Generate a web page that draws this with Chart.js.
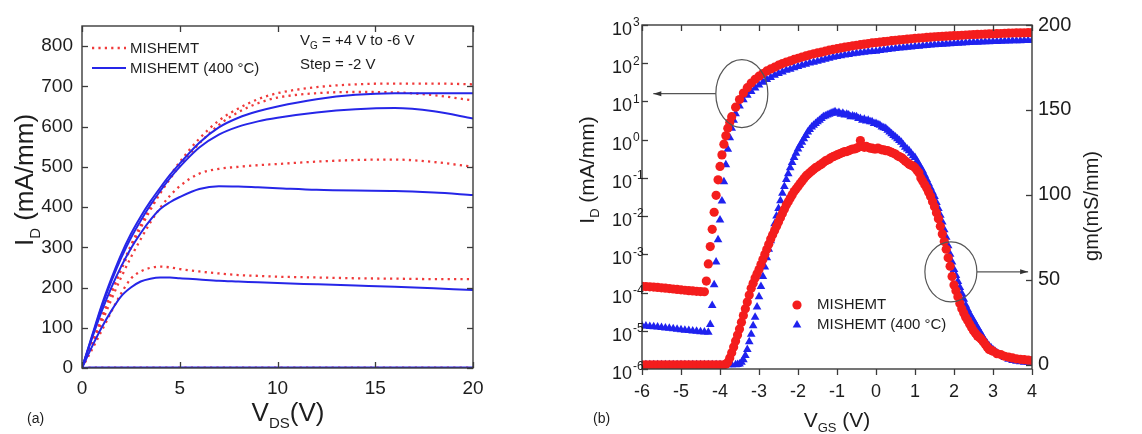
<!DOCTYPE html>
<html><head><meta charset="utf-8">
<script src="https://cdn.jsdelivr.net/npm/chart.js@4.4.0/dist/chart.umd.min.js"></script>
<style>
html,body{margin:0;padding:0;background:#fff;width:1142px;height:434px;overflow:hidden}
canvas{position:absolute;top:0}
#ca{left:0}
#cb{left:575px}
</style></head><body>
<canvas id="ca" width="575" height="434" style="width:575px;height:434px"></canvas>
<canvas id="cb" width="567" height="434" style="width:567px;height:434px"></canvas>
<script>
// ---------- Panel (a) data : output characteristics ----------
const vds = [0,0.5,1,1.5,2,2.5,3,3.5,4,4.5,5,6,7,8,9,10,12,14,16,18,20];
const redP4  = [0,60,125,190,250,305,355,400,440,478,512,570,615,645,668,683,698,705,707,707,705];
const redP2  = [0,58,120,183,243,298,348,393,434,470,502,558,604,636,658,672,683,686,685,678,665];
const red0   = [0,55,112,170,225,275,320,362,398,428,452,483,495,500,504,507,513,517,518,512,500];
const redM2  = [0,45,92,140,185,222,240,249,252,250,246,240,235,231,229,227,225,223,222,221,221];
const redM4  = [0,0,0,0,0,0,0,0,0,0,0,0,0,0,0,0,0,0,0,0,0];
const redM6  = [0,0,0,0,0,0,0,0,0,0,0,0,0,0,0,0,0,0,0,0,0];
const blueP4 = [0,78,155,222,282,333,376,414,448,480,508,560,598,622,638,650,668,679,683,683,683];
const blueP2 = [0,75,150,215,273,323,366,405,440,472,500,548,580,600,613,622,635,643,646,638,620];
const blue0  = [0,72,140,200,252,297,335,368,395,412,425,445,452,451,449,447,443,441,440,436,430];
const blueM2 = [0,52,100,142,178,200,215,222,225,225,223,220,217,215,213,211,208,205,202,198,194];
const blueM4 = [0,1,1,1,1,1,1,1,1,1,1,1,1,1,1,1,1,1,1,1,1];
const blueM6 = [0,0,0,0,0,0,0,0,0,0,0,0,0,0,0,0,0,0,0,0,0];
const xTicksA = [0,5,10,15,20];
const yTicksA = [0,100,200,300,400,500,600,700,800];

// ---------- Panel (b) data : transfer characteristics ----------
// transconductance gm (mS/mm) : [VGS, gm]
const gmMis = [[-6,0],[-5.9,0],[-5.8,0],[-5.7,0],[-5.6,0],[-5.5,0],[-5.4,0],[-5.3,0],[-5.2,0],[-5.1,0],[-5,0],
 [-4.9,0],[-4.8,0],[-4.7,0],[-4.6,0],[-4.5,0],[-4.4,0],[-4.3,0],[-4.2,0],[-4.1,0],[-4,0],[-3.9,0],[-3.85,0.3],
 [-3.8,1.5],[-3.75,4],[-3.7,7],[-3.65,10.5],[-3.6,14],[-3.55,17.5],[-3.5,21],[-3.45,25],[-3.4,29],[-3.35,33],
 [-3.3,37],[-3.25,41],[-3.2,45],[-3.15,48],[-3.1,51],[-3.05,53.5],[-3,56],[-2.95,59],[-2.9,62],[-2.85,65],[-2.8,68],
 [-2.75,71],[-2.7,74],[-2.65,76.5],[-2.6,79],[-2.55,81.5],[-2.5,84],[-2.45,86.5],[-2.4,89],[-2.35,91.5],[-2.3,94],
 [-2.25,96],[-2.2,98],[-2.15,100],[-2.1,102],[-2.05,103.5],[-2,105],[-1.95,106.5],[-1.9,108],[-1.85,109.5],[-1.8,111],
 [-1.75,112],[-1.7,113],[-1.65,114],[-1.6,115],[-1.55,116],[-1.5,116.5],[-1.45,117.5],[-1.4,118],[-1.35,119],[-1.3,120],
 [-1.25,120.5],[-1.2,121],[-1.15,122],[-1.1,122.5],[-1.05,123],[-1,123.5],[-0.95,124],[-0.9,124.5],[-0.85,125],
 [-0.8,125.5],[-0.75,125.5],[-0.7,126],[-0.65,126.5],[-0.6,127],[-0.55,127],[-0.5,127.5],[-0.45,128],[-0.4,132],
 [-0.35,128.5],[-0.3,128],[-0.25,128.5],[-0.2,128],[-0.15,127.5],[-0.1,127.5],[-0.05,127],[0,127],[0.05,127.5],[0.1,127],
 [0.15,126.5],[0.2,126.5],[0.25,126],[0.3,126],[0.35,125.5],[0.4,125],[0.45,124.5],[0.5,124],[0.55,123],[0.6,122.5],
 [0.65,122],[0.7,121],[0.75,120],[0.8,119],[0.85,118],[0.9,117.5],[0.95,117],[1,116],[1.05,114.5],[1.1,113],[1.15,110],
 [1.2,108],[1.25,106],[1.3,104],[1.35,101.5],[1.4,99],[1.45,96],[1.5,93],[1.55,89.5],[1.6,86],[1.65,81.5],[1.7,77],
 [1.75,72.5],[1.8,68],[1.85,63],[1.9,58],[1.95,52],[2,47],[2.05,43.5],[2.1,40],[2.15,36],[2.2,33],[2.25,30.5],[2.3,28],
 [2.35,26],[2.4,24],[2.45,22],[2.5,20],[2.55,18.5],[2.6,17],[2.65,16],[2.7,15],[2.75,13.5],[2.8,12],[2.85,10.5],[2.9,9],
 [2.95,8.5],[3,8],[3.1,6.5],[3.2,6],[3.3,5],[3.4,4.5],[3.5,4],[3.6,3.5],[3.7,3.2],[3.8,3],[3.9,2.7],[4,2.5]];
const gmMis400 = [[-6,0],[-5.9,0],[-5.8,0],[-5.7,0],[-5.6,0],[-5.5,0],[-5.4,0],[-5.3,0],[-5.2,0],[-5.1,0],[-5,0],
 [-4.9,0],[-4.8,0],[-4.7,0],[-4.6,0],[-4.5,0],[-4.4,0],[-4.3,0],[-4.2,0],[-4.1,0],[-4,0],[-3.9,0],[-3.8,0],[-3.7,0],
 [-3.6,0],[-3.55,0.2],[-3.5,0.5],[-3.45,1.5],[-3.4,3],[-3.35,5.5],[-3.3,9],[-3.25,13.5],[-3.2,18],[-3.15,23],[-3.1,28],
 [-3.05,34],[-3,40],[-2.95,46],[-2.9,52],[-2.85,57.5],[-2.8,63],[-2.75,68],[-2.7,73],[-2.65,78],[-2.6,83],[-2.55,87.5],
 [-2.5,92],[-2.45,96.5],[-2.4,101],[-2.35,105],[-2.3,109],[-2.25,112.5],[-2.2,116],[-2.15,119],[-2.1,122],[-2.05,124.5],
 [-2,127],[-1.95,129],[-1.9,131],[-1.85,133],[-1.8,135],[-1.75,137],[-1.7,138.5],[-1.65,140],[-1.6,141],[-1.55,142],
 [-1.5,143],[-1.45,144],[-1.4,145],[-1.35,146],[-1.3,146.5],[-1.25,147],[-1.2,147.5],[-1.15,148],[-1.1,148.5],[-1.05,149],
 [-1,148],[-0.95,148.5],[-0.9,147.5],[-0.85,148],[-0.8,147],[-0.75,147.5],[-0.7,147],[-0.65,146],[-0.6,146.5],[-0.55,146],
 [-0.5,146],[-0.45,145],[-0.4,145],[-0.35,144],[-0.3,144.5],[-0.25,143.5],[-0.2,144],[-0.15,143],[-0.1,143],[-0.05,142],
 [0,142],[0.05,141.5],[0.1,141],[0.15,140],[0.2,139.5],[0.25,139],[0.3,138],[0.35,137],[0.4,136],[0.45,135],[0.5,134],
 [0.55,133],[0.6,132],[0.65,131],[0.7,129.5],[0.75,128],[0.8,127],[0.85,126],[0.9,124.5],[0.95,123],[1,122],[1.05,120],
 [1.1,118],[1.15,116],[1.2,114],[1.25,111.5],[1.3,109],[1.35,106.5],[1.4,104],[1.45,101.5],[1.5,99],[1.55,95.5],[1.6,92],
 [1.65,88],[1.7,84],[1.75,79.5],[1.8,75],[1.85,70],[1.9,65],[1.95,60.5],[2,56],[2.05,52.5],[2.1,49],[2.15,45.5],[2.2,42],
 [2.25,38.5],[2.3,35],[2.35,32.5],[2.4,30],[2.45,28],[2.5,26],[2.55,24],[2.6,22],[2.65,20],[2.7,18],[2.75,16],[2.8,14],
 [2.85,12.5],[2.9,11],[2.95,10],[3,8.8],[3.05,8],[3.1,7],[3.15,6.2],[3.2,5.5],[3.3,4.3],[3.4,3.3],[3.5,2.5],[3.6,2],
 [3.7,1.7],[3.8,1.5],[3.9,1.5],[4,1.5]];
// drain current ID (mA/mm) : [VGS, ID]
const idMis = [[-6,1.45e-4],[-5.9,1.43e-4],[-5.8,1.41e-4],[-5.7,1.39e-4],[-5.6,1.36e-4],[-5.5,1.33e-4],[-5.4,1.30e-4],
 [-5.3,1.27e-4],[-5.2,1.24e-4],[-5.1,1.21e-4],[-5,1.18e-4],[-4.9,1.15e-4],[-4.8,1.12e-4],[-4.7,1.10e-4],[-4.6,1.08e-4],
 [-4.5,1.06e-4],[-4.4,1.05e-4],[-4.35,2.0e-4],[-4.3,5.6e-4],[-4.25,1.6e-3],[-4.2,4.5e-3],[-4.15,1.26e-2],[-4.1,3.5e-2],
 [-4.05,8.9e-2],[-4,0.2],[-3.95,0.4],[-3.9,0.76],[-3.85,1.26],[-3.8,2.0],[-3.75,2.8],[-3.7,4.0],[-3.6,7.1],[-3.5,11.2],
 [-3.4,16.6],[-3.3,22.9],[-3.2,30.2],[-3.1,38],[-3,45.7],[-2.9,53.7],[-2.8,63],[-2.7,71],[-2.6,79],[-2.5,89],[-2.4,98],
 [-2.3,107],[-2.2,115],[-2.1,126],[-2,135],[-1.9,145],[-1.8,155],[-1.7,166],[-1.6,176],[-1.5,186],[-1.4,195],[-1.3,207],
 [-1.2,219],[-1.1,229],[-1,240],[-0.9,251],[-0.8,263],[-0.7,272],[-0.6,285],[-0.5,295],[-0.4,305],[-0.3,316],[-0.2,327],
 [-0.1,339],[0,347],[0.1,355],[0.2,367],[0.3,376],[0.4,389],[0.5,398],[0.6,407],[0.7,417],[0.8,427],[0.9,437],[1,447],
 [1.1,455],[1.2,463],[1.3,472],[1.4,481],[1.5,490],[1.6,497],[1.7,504],[1.8,511],[1.9,518],[2,525],[2.1,532],[2.2,540],
 [2.3,547],[2.4,555],[2.5,562],[2.6,568],[2.7,573],[2.8,578],[2.9,583],[3,589],[3.1,594],[3.2,600],[3.3,605],[3.4,611],
 [3.5,617],[3.6,619],[3.7,622],[3.8,625],[3.9,628],[4,631]];
const idMis400 = [[-6,1.35e-5],[-5.9,1.33e-5],[-5.8,1.30e-5],[-5.7,1.28e-5],[-5.6,1.25e-5],[-5.5,1.22e-5],[-5.4,1.19e-5],
 [-5.3,1.16e-5],[-5.2,1.13e-5],[-5.1,1.10e-5],[-5,1.07e-5],[-4.9,1.04e-5],[-4.8,1.01e-5],[-4.7,9.9e-6],[-4.6,9.7e-6],
 [-4.5,9.5e-6],[-4.4,9.3e-6],[-4.3,9.2e-6],[-4.25,1.45e-5],[-4.2,4.6e-5],[-4.15,1.6e-4],[-4.1,6.3e-4],[-4.05,2.4e-3],
 [-4,7.9e-3],[-3.95,2.5e-2],[-3.9,7.9e-2],[-3.85,0.22],[-3.8,0.56],[-3.75,1.12],[-3.7,2.0],[-3.65,3.2],[-3.6,4.8],
 [-3.5,7.6],[-3.4,11],[-3.3,14.6],[-3.2,18.3],[-3.1,22.6],[-3,27.1],[-2.9,31.8],[-2.8,37.4],[-2.7,42],[-2.6,48.2],
 [-2.5,54.1],[-2.4,59.3],[-2.3,65],[-2.2,69.7],[-2.1,76.4],[-2,81.6],[-1.9,88],[-1.8,93.6],[-1.7,100.8],[-1.6,106.4],
 [-1.5,112.8],[-1.4,120],[-1.3,126.4],[-1.2,134.4],[-1.1,142.4],[-1,148.8],[-0.9,156],[-0.8,163],[-0.7,168.8],[-0.6,176.8],
 [-0.5,183],[-0.4,189],[-0.3,194],[-0.2,199],[-0.1,203],[0,207],[0.1,215],[0.2,222],[0.3,227],[0.4,235],[0.5,243],
 [0.6,249],[0.7,255],[0.8,261],[0.9,267],[1,273],[1.1,280],[1.2,286],[1.3,293],[1.4,300],[1.5,306],[1.6,311],[1.7,315],
 [1.8,320],[1.9,324],[2,329],[2.1,333],[2.2,338],[2.3,343],[2.4,347],[2.5,352],[2.6,355],[2.7,359],[2.8,362],[2.9,365],
 [3,369],[3.1,372],[3.2,376],[3.3,379],[3.4,383],[3.5,386],[3.6,388],[3.7,390],[3.8,391],[3.9,393],[4,395]];
const idTicks = [1e-6,1e-5,1e-4,1e-3,1e-2,1e-1,1e0,1e1,1e2,1e3];
const idExp = ['-6','-5','-4','-3','-2','-1','0','1','2','3'];
const gmTicks = [0,50,100,150,200];
const xTicksB = [-6,-5,-4,-3,-2,-1,0,1,2,3,4];
// annotation anchors (data units)
const ringId = {v:-3.44, y:16, tipV:-5.71};
const ringGm = {v:1.92, y:54.7, tipV:3.9};

// ---------- styling ----------
const FONT = '"Liberation Sans", Arial, Helvetica, sans-serif';
const AX = '#3b3b3b';
const RED_L = '#f03a3a', BLUE_L = '#2626e8';
const RED_P = '#f41d1d', BLUE_P = '#1f22ef';
Chart.defaults.font.family = FONT;
Chart.defaults.color = '#1d1d1d';

function rich(ctx, parts, x, y, rot, align){
  ctx.save(); ctx.translate(x,y); if(rot) ctx.rotate(rot);
  let w=0; for(const p of parts){ctx.font=p[1]+'px '+FONT; w+=ctx.measureText(p[0]).width;}
  let cx = align==='left'?0:-w/2;
  ctx.textBaseline='alphabetic'; ctx.fillStyle='#1d1d1d';
  for(const p of parts){ctx.font=p[1]+'px '+FONT; ctx.fillText(p[0],cx,p[2]||0); cx+=ctx.measureText(p[0]).width;}
  ctx.restore();
}
function tickMarks(chart, specs){
  const ctx=chart.ctx, a=chart.chartArea;
  ctx.save(); ctx.strokeStyle=AX; ctx.lineWidth=1.4;
  ctx.strokeRect(a.left,a.top,a.right-a.left,a.bottom-a.top);
  ctx.lineWidth=1.3;
  for(const sp of specs){
    const s=chart.scales[sp.scale];
    for(const t of s.ticks){
      const p=Math.round(s.getPixelForValue(t.value))+0.5;
      ctx.beginPath();
      if(sp.side==='bottom'){ctx.moveTo(p,a.bottom);ctx.lineTo(p,a.bottom+(sp.out?sp.len:-sp.len));}
      if(sp.side==='top'){ctx.moveTo(p,a.top);ctx.lineTo(p,a.top+sp.len);}
      if(sp.side==='left'){ctx.moveTo(a.left,p);ctx.lineTo(a.left+sp.len,p);}
      if(sp.side==='right'){ctx.moveTo(a.right,p);ctx.lineTo(a.right-sp.len,p);}
      ctx.stroke();
    }
  }
  ctx.restore();
}
const mk = (ys)=>vds.map((v,i)=>({x:v,y:ys[i]}));
const lineDs = (label, ys, dotted)=>({label, data:mk(ys), borderColor: dotted?RED_L:BLUE_L,
  borderWidth: dotted?2.3:2, borderDash: dotted?[2.2,4.2]:[], pointRadius:0, fill:false,
  cubicInterpolationMode:'monotone'});

// ---------- Chart (a) ----------
new Chart(document.getElementById('ca'), {
  type:'line',
  data:{datasets:[
    lineDs('MISHEMT (400 °C) VG=-6',blueM6,false), lineDs('MISHEMT (400 °C) VG=-4',blueM4,false),
    lineDs('MISHEMT (400 °C) VG=-2',blueM2,false), lineDs('MISHEMT (400 °C) VG=0',blue0,false),
    lineDs('MISHEMT (400 °C) VG=+2',blueP2,false), lineDs('MISHEMT (400 °C) VG=+4',blueP4,false),
    lineDs('MISHEMT VG=-6',redM6,true), lineDs('MISHEMT VG=-4',redM4,true),
    lineDs('MISHEMT VG=-2',redM2,true), lineDs('MISHEMT VG=0',red0,true),
    lineDs('MISHEMT VG=+2',redP2,true), lineDs('MISHEMT VG=+4',redP4,true)
  ]},
  options:{
    responsive:false, animation:false, events:[],
    layout:{padding:{left:0,right:102,top:26,bottom:0}},
    plugins:{legend:{display:false}, tooltip:{enabled:false}},
    scales:{
      x:{type:'linear', min:0, max:20,
         afterBuildTicks:s=>{s.ticks=xTicksA.map(v=>({value:v}));},
         ticks:{font:{size:19}, padding:9, autoSkip:false, maxRotation:0},
         grid:{display:false, drawTicks:false}, border:{display:false},
         afterFit:s=>{s.height=66;}},
      y:{type:'linear', min:0, max:850,
         afterBuildTicks:s=>{s.ticks=yTicksA.map(v=>({value:v}));},
         ticks:{font:{size:19}, padding:9, autoSkip:false},
         grid:{display:false, drawTicks:false}, border:{display:false},
         afterFit:s=>{s.width=82;}}
    }
  },
  plugins:[{id:'decoA', afterDraw(chart){
    tickMarks(chart,[{scale:'x',side:'bottom',len:6},{scale:'x',side:'top',len:6},
                     {scale:'y',side:'left',len:6},{scale:'y',side:'right',len:6}]);
    const ctx=chart.ctx, a=chart.chartArea;
    // legend
    ctx.save();
    ctx.lineWidth=2.3; ctx.strokeStyle=RED_L; ctx.setLineDash([2.2,4.2]);
    ctx.beginPath(); ctx.moveTo(a.left+10,48); ctx.lineTo(a.left+44,48); ctx.stroke();
    ctx.setLineDash([]); ctx.lineWidth=2; ctx.strokeStyle=BLUE_L;
    ctx.beginPath(); ctx.moveTo(a.left+10,68); ctx.lineTo(a.left+44,68); ctx.stroke();
    ctx.restore();
    rich(ctx,[['MISHEMT',15]],a.left+48,53,0,'left');
    rich(ctx,[['MISHEMT (400 °C)',15]],a.left+48,73,0,'left');
    rich(ctx,[['V',15],['G',10,4],[' = +4 V to -6 V',15]],300,45,0,'left');
    rich(ctx,[['Step = -2 V',15]],300,69,0,'left');
    // axis titles
    rich(ctx,[['V',26],['DS',15,7],['(V)',26]],288,421,0);
    rich(ctx,[['I',26],['D',15,7],[' (mA/mm)',26]],33,180,-Math.PI/2);
    rich(ctx,[['(a)',14]],27,423,0,'left');
  }}]
});

// ---------- Chart (b) ----------
const pts = (arr)=>arr.map(p=>({x:p[0],y:p[1]}));
new Chart(document.getElementById('cb'), {
  type:'scatter',
  data:{datasets:[
    {label:'MISHEMT', data:pts(idMis), yAxisID:'y', pointStyle:'circle', pointRadius:4.6,
     backgroundColor:RED_P, borderWidth:0},
    {label:'MISHEMT gm', data:pts(gmMis), yAxisID:'y1', pointStyle:'circle', pointRadius:4.6,
     backgroundColor:RED_P, borderWidth:0},
    {label:'MISHEMT (400 °C)', data:pts(idMis400), yAxisID:'y', pointStyle:'triangle', pointRadius:5,
     backgroundColor:BLUE_P, borderWidth:0},
    {label:'MISHEMT (400 °C) gm', data:pts(gmMis400), yAxisID:'y1', pointStyle:'triangle', pointRadius:5,
     backgroundColor:BLUE_P, borderWidth:0}
  ]},
  options:{
    responsive:false, animation:false, events:[],
    layout:{padding:{left:0,right:0,top:25,bottom:0}},
    plugins:{legend:{display:false}, tooltip:{enabled:false}},
    scales:{
      x:{type:'linear', min:-6, max:4,
         afterBuildTicks:s=>{s.ticks=xTicksB.map(v=>({value:v}));},
         ticks:{font:{size:18}, padding:12, autoSkip:false, maxRotation:0},
         grid:{display:false, drawTicks:false}, border:{display:false},
         afterFit:s=>{s.height=65;}},
      y:{type:'logarithmic', position:'left', min:1e-6, max:1e3,
         afterBuildTicks:s=>{s.ticks=idTicks.map(v=>({value:v}));},
         ticks:{display:false},
         grid:{display:false, drawTicks:false}, border:{display:false},
         afterFit:s=>{s.width=67;}},
      y1:{type:'linear', position:'right', min:-2.5, max:200,
         afterBuildTicks:s=>{s.ticks=gmTicks.map(v=>({value:v}));},
         ticks:{font:{size:20}, padding:6, autoSkip:false},
         grid:{display:false, drawTicks:false}, border:{display:false},
         afterFit:s=>{s.width=110;}}
    }
  },
  plugins:[{id:'decoB', afterDraw(chart){
    tickMarks(chart,[{scale:'x',side:'bottom',len:6,out:true},{scale:'x',side:'top',len:6},
                     {scale:'y',side:'left',len:6},{scale:'y1',side:'right',len:6}]);
    const ctx=chart.ctx, a=chart.chartArea, sx=chart.scales.x, sy=chart.scales.y, sg=chart.scales.y1;
    // log tick labels
    idTicks.forEach((v,i)=>{
      const p=sy.getPixelForValue(v);
      ctx.save(); ctx.fillStyle='#1d1d1d'; ctx.textBaseline='middle';
      ctx.font='18px '+FONT; ctx.textAlign='right'; ctx.fillText('10',a.left-10,p+5);
      ctx.font='12px '+FONT; ctx.textAlign='left'; ctx.fillText(idExp[i],a.left-9,p-2);
      ctx.restore();
    });
    // rings and arrows
    const ring=(cx,cy,rx,ry,tip,dir)=>{
      ctx.save(); ctx.strokeStyle='#555'; ctx.lineWidth=1.2;
      ctx.beginPath(); ctx.ellipse(cx,cy,rx,ry,0,0,Math.PI*2); ctx.stroke();
      const sx0 = cx + dir*rx;
      ctx.beginPath(); ctx.moveTo(sx0,cy); ctx.lineTo(tip,cy); ctx.stroke();
      ctx.fillStyle='#333'; ctx.beginPath();
      ctx.moveTo(tip,cy); ctx.lineTo(tip-dir*8,cy-2.5); ctx.lineTo(tip-dir*8,cy+2.5); ctx.closePath(); ctx.fill();
      ctx.restore();
    };
    ring(sx.getPixelForValue(ringId.v), sy.getPixelForValue(ringId.y), 26, 34, sx.getPixelForValue(ringId.tipV), -1);
    ring(sx.getPixelForValue(ringGm.v), sg.getPixelForValue(ringGm.y), 26, 30, sx.getPixelForValue(ringGm.tipV), 1);
    // legend
    const lx=a.left+155, ly1=305, ly2=325;
    ctx.save();
    ctx.fillStyle=RED_P; ctx.beginPath(); ctx.arc(lx,ly1,4.6,0,Math.PI*2); ctx.fill();
    ctx.fillStyle=BLUE_P; ctx.strokeStyle=BLUE_P;
    Chart.helpers.drawPoint(ctx,{pointStyle:'triangle',radius:5,borderWidth:0},lx,ly2);
    ctx.restore();
    ctx.save(); ctx.textBaseline='middle'; ctx.fillStyle='#1d1d1d'; ctx.font='15px '+FONT;
    ctx.fillText('MISHEMT',lx+20,ly1); ctx.fillText('MISHEMT (400 °C)',lx+20,ly2); ctx.restore();
    // axis titles
    rich(ctx,[['V',21],['GS',13,5],[' (V)',21]],(a.left+a.right)/2,427,0);
    rich(ctx,[['I',21],['D',13,5],[' (mA/mm)',21]],19,170,-Math.PI/2);
    rich(ctx,[['gm(mS/mm)',20]],523,206,-Math.PI/2);
    rich(ctx,[['(b)',14]],18,423,0,'left');
  }}]
});
</script>
</body></html>
